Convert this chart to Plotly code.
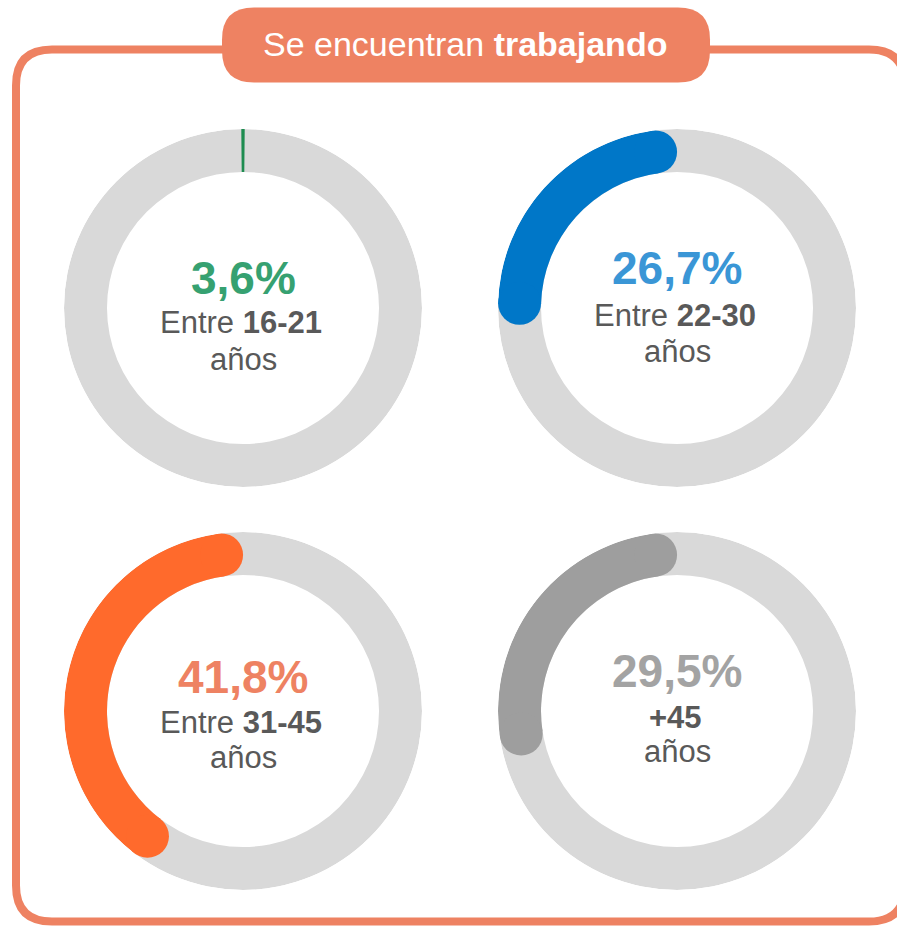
import plotly.graph_objects as go

# ---------------- data ----------------
categories = ["16-21", "22-30", "31-45", "+45"]
values = [3.6, 26.7, 41.8, 29.5]           # percent working
label_prefix = ["Entre ", "Entre ", "Entre ", ""]
unit_label = "años"
title_plain = "Se encuentran "
title_bold = "trabajando"

# ---------------- styles ----------------
W, H = 897, 927          # window size
arc_colors = ["#1E8C50", "#0077C8", "#FF6A2C", "#9E9E9E"]
text_colors = ["#36A171", "#3A96D6", "#EE8262", "#A3A3A3"]
ring_color = "#D9D9D9"
accent = "#EE8262"
gray_text = "#595959"
FONT = "Arial, 'Liberation Sans', sans-serif"

centers = [(243, 308), (677, 308), (243, 711), (677, 711)]
pct_y = [278, 268, 677, 671]       # y of percentage text centre
line1_y = [322, 315, 722, 717]
line2_y = [359, 351, 757, 751]
R_OUT, R_IN = 179, 136
R_MID = (R_OUT + R_IN) / 2
THICK = R_OUT - R_IN
cap_deg = (THICK / 2) / R_MID * 180 / 3.141592653589793


def fmt(v):
    return f"{v:.1f}".replace(".", ",") + "%"


fig = go.Figure()
layout_polars = {}
annotations = []

for i, (cat, v) in enumerate(zip(categories, values)):
    pname = "polar" if i == 0 else f"polar{i+1}"
    cx, cy = centers[i]
    layout_polars[pname] = dict(
        domain=dict(x=[(cx - R_OUT) / W, (cx + R_OUT) / W],
                    y=[1 - (cy + R_OUT) / H, 1 - (cy - R_OUT) / H]),
        bgcolor="rgba(0,0,0,0)",
        hole=0,
        radialaxis=dict(visible=False, range=[0, R_OUT]),
        angularaxis=dict(visible=False, rotation=90, direction="counterclockwise"),
    )
    # background ring
    fig.add_trace(go.Barpolar(
        r=[THICK], base=[R_IN], theta=[180], width=[360],
        marker=dict(color=ring_color, line=dict(width=0)),
        subplot=pname, showlegend=False, hoverinfo="skip"))
    span = v / 100 * 360
    start, end = cap_deg, span - cap_deg
    if end > start:
        fig.add_trace(go.Barpolar(
            r=[THICK], base=[R_IN], theta=[(start + end) / 2], width=[end - start],
            marker=dict(color=arc_colors[i], line=dict(width=0)),
            subplot=pname, showlegend=False, hoverinfo="skip"))
        fig.add_trace(go.Scatterpolar(
            r=[R_MID, R_MID], theta=[start, end], mode="markers",
            marker=dict(size=THICK, color=arc_colors[i], line=dict(width=0)),
            subplot=pname, showlegend=False, hoverinfo="skip"))
    else:
        # too short for rounded ends: drawn as a hairline at the start
        fig.add_trace(go.Barpolar(
            r=[THICK], base=[R_IN], theta=[0], width=[1.1],
            marker=dict(color=arc_colors[i], line=dict(width=0)),
            subplot=pname, showlegend=False, hoverinfo="skip"))

    annotations.append(dict(
        x=cx, y=pct_y[i], xref="x", yref="y",
        text=f"<b>{fmt(v)}</b>", showarrow=False,
        font=dict(family=FONT, size=46, color=text_colors[i]),
        xanchor="center", yanchor="middle"))
    annotations.append(dict(
        x=cx - 2, y=line1_y[i], xref="x", yref="y",
        text=f"{label_prefix[i]}<b>{cat}</b>", showarrow=False,
        font=dict(family=FONT, size=31, color=gray_text),
        xanchor="center", yanchor="middle"))
    annotations.append(dict(
        x=cx, y=line2_y[i], xref="x", yref="y",
        text=unit_label, showarrow=False,
        font=dict(family=FONT, size=31, color=gray_text),
        xanchor="center", yanchor="middle"))

# title
annotations.append(dict(
    x=465, y=44, xref="x", yref="y",
    text=f"{title_plain}<b>{title_bold}</b>", showarrow=False,
    font=dict(family=FONT, size=34, color="white"),
    xanchor="center", yanchor="middle"))


def rrect(x0, y0, x1, y1, r):
    return (f"M {x0+r},{y0} L {x1-r},{y0} Q {x1},{y0} {x1},{y0+r} "
            f"L {x1},{y1-r} Q {x1},{y1} {x1-r},{y1} L {x0+r},{y1} "
            f"Q {x0},{y1} {x0},{y1-r} L {x0},{y0+r} Q {x0},{y0} {x0+r},{y0} Z")


shapes = [
    dict(type="path", xref="x", yref="y", path=rrect(16, 49.5, 905, 921.5, 36),
         line=dict(color=accent, width=8), fillcolor="rgba(0,0,0,0)", layer="below"),
    dict(type="path", xref="x", yref="y", path=rrect(222, 7.5, 710, 82.5, 32),
         line=dict(color=accent, width=0), fillcolor=accent, layer="below"),
]

fig.update_layout(
    width=W, height=H,
    margin=dict(l=0, r=0, t=0, b=0),
    paper_bgcolor="white", plot_bgcolor="rgba(0,0,0,0)",
    xaxis=dict(range=[0, W], visible=False, fixedrange=True, domain=[0, 1]),
    yaxis=dict(range=[H, 0], visible=False, fixedrange=True, domain=[0, 1]),
    shapes=shapes, annotations=annotations,
    showlegend=False,
    **layout_polars,
)

fig.write_html(
    "out.html",
    config={"displayModeBar": False, "staticPlot": True},
    post_script="document.body.style.margin='0';document.body.style.overflow='hidden';",
)
